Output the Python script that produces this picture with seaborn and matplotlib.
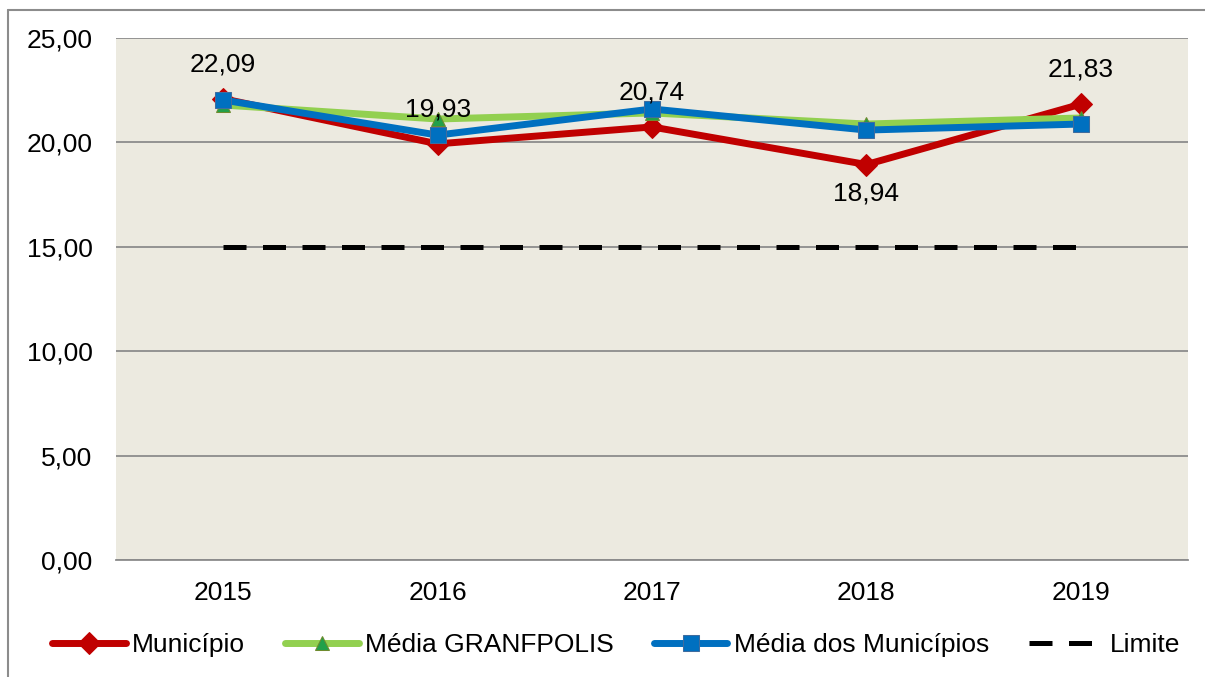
import numpy as np
import pandas as pd
import matplotlib
matplotlib.use("Agg")
import matplotlib.pyplot as plt
import seaborn as sns
from matplotlib.lines import Line2D

# %%

anos = ["2015", "2016", "2017", "2018", "2019"]
municipio = [22.09, 19.93, 20.74, 18.94, 21.83]
media_granfpolis = [21.79, 21.12, 21.41, 20.88, 21.17]
media_municipios = [22.03, 20.35, 21.60, 20.59, 20.88]
limite = [15.0, 15.0, 15.0, 15.0, 15.0]
yticks = [0, 5, 10, 15, 20, 25]

# %%

sns.set_style("white")
plt.rcParams['font.family'] = ['Liberation Sans', 'DejaVu Sans']
plt.rcParams['text.color'] = 'black'
plt.rcParams['xtick.color'] = 'black'
plt.rcParams['ytick.color'] = 'black'

fig = plt.figure(figsize=(12.05, 6.77), dpi=100)
ax = fig.add_axes([116/1205, 1-560/677, (1188-116)/1205, (560-38)/677])
ax.set_facecolor("#ECEAE0")

df = pd.DataFrame({"ano": anos, "Município": municipio,
                   "Média GRANFPOLIS": media_granfpolis,
                   "Média dos Municípios": media_municipios,
                   "Limite": limite})

sns.lineplot(data=df, x="ano", y="Limite", ax=ax, color="black", lw=3.6,
             linestyle=(0, (4.6, 3.3)), label="Limite", zorder=3)
sns.lineplot(data=df, x="ano", y="Município", ax=ax, color="#C00000", lw=5,
             marker="D", markersize=11, markeredgecolor="#C00000",
             label="Município", zorder=4)
sns.lineplot(data=df, x="ano", y="Média GRANFPOLIS", ax=ax, color="#92D050", lw=5,
             marker="^", markersize=10, markerfacecolor="#22A04A",
             markeredgecolor="#6E8B2E", label="Média GRANFPOLIS", zorder=5)
sns.lineplot(data=df, x="ano", y="Média dos Municípios", ax=ax, color="#0070C0", lw=5,
             marker="s", markersize=11, markeredgecolor="#3F6C9E",
             label="Média dos Municípios", zorder=6)

# rótulos do Município
offsets = [25, 25, 25, -21, 25]
for i, v in enumerate(municipio):
    ax.annotate(f"{v:.2f}".replace(".", ","), (i, v), xytext=(0, offsets[i]),
                textcoords="offset points", ha="center", va="center",
                fontsize=19, color="black", zorder=10)

ax.set_xlim(-0.5, 4.5)
ax.set_ylim(0, 25)
ax.set_yticks(yticks)
ax.set_yticklabels([f"{t:.2f}".replace(".", ",") for t in yticks])
ax.grid(axis="y", color="#8C8C8C", lw=1.3)
ax.set_axisbelow(True)
ax.set_xlabel("")
ax.set_ylabel("")
for s in ["left", "right", "top"]:
    ax.spines[s].set_visible(False)
ax.spines["bottom"].set_color("#8C8C8C")
ax.spines["bottom"].set_linewidth(1.3)
ax.tick_params(axis="both", length=0, labelsize=19)
ax.tick_params(axis="y", pad=17)
ax.tick_params(axis="x", pad=15)

h, l = ax.get_legend_handles_labels()
ax.legend_.remove()
order = [1, 2, 3, 0]
fig.legend([h[i] for i in order], [l[i] for i in order], loc="center",
           bbox_to_anchor=(0.511, 1-645/677), ncol=4, frameon=False,
           fontsize=19, handlelength=2.8, handletextpad=0.25, columnspacing=1.5)

# moldura externa
fig.add_artist(Line2D([8/1205, 1.0], [1-10/677, 1-10/677], color="#8C8C8C", lw=1.5))
fig.add_artist(Line2D([8/1205, 8/1205], [0, 1-10/677], color="#8C8C8C", lw=1.5))

fig.savefig("out.png", dpi=100)
